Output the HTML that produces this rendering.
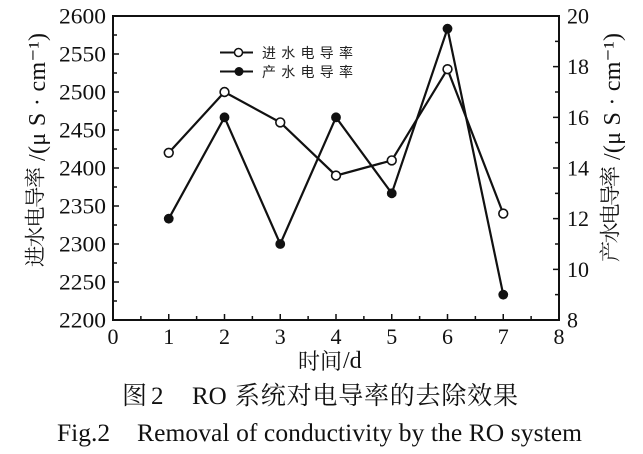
<!DOCTYPE html>
<html>
<head>
<meta charset="utf-8">
<style>
html,body{margin:0;padding:0;background:#fff;}
svg{display:block;}
.s{font-family:"Liberation Serif","Noto Serif CJK SC",serif;fill:#111;}
.c{font-family:"Liberation Serif","Noto Serif CJK SC",serif;fill:#111;}
.l{font-family:"Liberation Sans","Noto Sans CJK SC",sans-serif;fill:#222;}
</style>
</head>
<body>
<svg width="643" height="454" viewBox="0 0 643 454" xmlns="http://www.w3.org/2000/svg">
<rect x="0" y="0" width="643" height="454" fill="#fff"/>

<!-- frame -->
<rect x="113" y="16" width="446" height="304" fill="none" stroke="#111" stroke-width="2"/>

<!-- ticks -->
<path d="M113 54h6M113 92h6M113 130h6M113 168h6M113 206h6M113 244h6M113 282h6
M113 35h4M113 73h4M113 111h4M113 149h4M113 187h4M113 225h4M113 263h4M113 301h4" stroke="#111" stroke-width="1.5" fill="none"/>
<path d="M559 269.33h-6M559 218.67h-6M559 168h-6M559 117.33h-6M559 66.67h-6
M559 294.67h-4M559 244h-4M559 193.33h-4M559 142.67h-4M559 92h-4M559 41.33h-4" stroke="#111" stroke-width="1.5" fill="none"/>
<path d="M168.75 320v-6M224.5 320v-6M280.25 320v-6M336 320v-6M391.75 320v-6M447.5 320v-6M503.25 320v-6
M140.875 320v-4M196.625 320v-4M252.375 320v-4M308.125 320v-4M363.875 320v-4M419.625 320v-4M475.375 320v-4M531.125 320v-4" stroke="#111" stroke-width="1.5" fill="none"/>

<!-- left tick labels -->
<g class="s" font-size="22">
<text x="59" y="23.5" textLength="47" lengthAdjust="spacingAndGlyphs">2600</text>
<text x="59" y="61.5" textLength="47" lengthAdjust="spacingAndGlyphs">2550</text>
<text x="59" y="99.5" textLength="47" lengthAdjust="spacingAndGlyphs">2500</text>
<text x="59" y="137.5" textLength="47" lengthAdjust="spacingAndGlyphs">2450</text>
<text x="59" y="175.5" textLength="47" lengthAdjust="spacingAndGlyphs">2400</text>
<text x="59" y="213.5" textLength="47" lengthAdjust="spacingAndGlyphs">2350</text>
<text x="59" y="251.5" textLength="47" lengthAdjust="spacingAndGlyphs">2300</text>
<text x="59" y="289.5" textLength="47" lengthAdjust="spacingAndGlyphs">2250</text>
<text x="59" y="327.5" textLength="47" lengthAdjust="spacingAndGlyphs">2200</text>
</g>

<!-- right tick labels -->
<g class="s" font-size="22">
<text x="567" y="23.5" textLength="22" lengthAdjust="spacingAndGlyphs">20</text>
<text x="567" y="74.2" textLength="22" lengthAdjust="spacingAndGlyphs">18</text>
<text x="567" y="124.8" textLength="22" lengthAdjust="spacingAndGlyphs">16</text>
<text x="567" y="175.5" textLength="22" lengthAdjust="spacingAndGlyphs">14</text>
<text x="567" y="226.2" textLength="22" lengthAdjust="spacingAndGlyphs">12</text>
<text x="567" y="276.8" textLength="22" lengthAdjust="spacingAndGlyphs">10</text>
<text x="567" y="327.5">8</text>
</g>

<!-- x tick labels -->
<g class="s" font-size="22" text-anchor="middle">
<text x="113" y="344">0</text>
<text x="168.75" y="344">1</text>
<text x="224.5" y="344">2</text>
<text x="280.25" y="344">3</text>
<text x="336" y="344">4</text>
<text x="391.75" y="344">5</text>
<text x="447.5" y="344">6</text>
<text x="503.25" y="344">7</text>
<text x="559" y="344">8</text>
</g>

<!-- axis titles -->
<text class="c" font-size="22" x="298" y="369">时间</text>
<text class="s" font-size="24" x="343" y="368">/d</text>

<text class="c" font-size="21" transform="translate(42.5,267) rotate(-90)" x="0" y="0" textLength="100">进水电导率</text>
<text class="s" font-size="24" transform="translate(45,161) rotate(-90)" x="0" y="0" textLength="128">/(μ S · cm⁻¹)</text>

<text class="c" font-size="21" transform="translate(617.5,262) rotate(-90)" x="0" y="0" textLength="96">产水电导率</text>
<text class="s" font-size="24" transform="translate(620,160) rotate(-90)" x="0" y="0" textLength="127">/(μ S · cm⁻¹)</text>

<!-- series lines -->
<polyline points="168.75,152.8 224.5,92 280.25,122.4 336,175.6 391.75,160.4 447.5,69.2 503.25,213.6" fill="none" stroke="#111" stroke-width="2.2" stroke-linejoin="miter"/>
<polyline points="168.75,218.67 224.5,117.33 280.25,244 336,117.33 391.75,193.33 447.5,28.67 503.25,294.67" fill="none" stroke="#111" stroke-width="2.2" stroke-linejoin="miter"/>

<!-- markers -->
<g fill="#fff" stroke="#111" stroke-width="1.6">
<circle cx="168.75" cy="152.8" r="4.4"/>
<circle cx="224.5" cy="92" r="4.4"/>
<circle cx="280.25" cy="122.4" r="4.4"/>
<circle cx="336" cy="175.6" r="4.4"/>
<circle cx="391.75" cy="160.4" r="4.4"/>
<circle cx="447.5" cy="69.2" r="4.4"/>
<circle cx="503.25" cy="213.6" r="4.4"/>
</g>
<g fill="#111">
<circle cx="168.75" cy="218.67" r="4.9"/>
<circle cx="224.5" cy="117.33" r="4.9"/>
<circle cx="280.25" cy="244" r="4.9"/>
<circle cx="336" cy="117.33" r="4.9"/>
<circle cx="391.75" cy="193.33" r="4.9"/>
<circle cx="447.5" cy="28.67" r="4.9"/>
<circle cx="503.25" cy="294.67" r="4.9"/>
</g>

<!-- legend -->
<path d="M220 52.5H253M220 71.5H253" stroke="#111" stroke-width="2"/>
<circle cx="238.5" cy="52.5" r="4" fill="#fff" stroke="#111" stroke-width="1.5"/>
<circle cx="239" cy="71.5" r="4.5" fill="#111"/>
<text class="l" font-size="14" x="262" y="57.8" textLength="91">进水电导率</text>
<text class="l" font-size="14" x="262" y="76.8" textLength="91">产水电导率</text>

<!-- captions -->
<text class="c" font-size="25" x="122" y="404">图</text>
<text class="c" font-size="25" x="151" y="404">2</text>
<text class="c" font-size="25" x="192" y="404">RO</text>
<text class="c" font-size="25" x="235" y="404" textLength="283">系统对电导率的去除效果</text>

<text class="s" font-size="25.5" x="57" y="441">Fig.2</text>
<text class="s" font-size="25.5" x="137" y="441" textLength="445">Removal of conductivity by the RO system</text>
</svg>
</body>
</html>
